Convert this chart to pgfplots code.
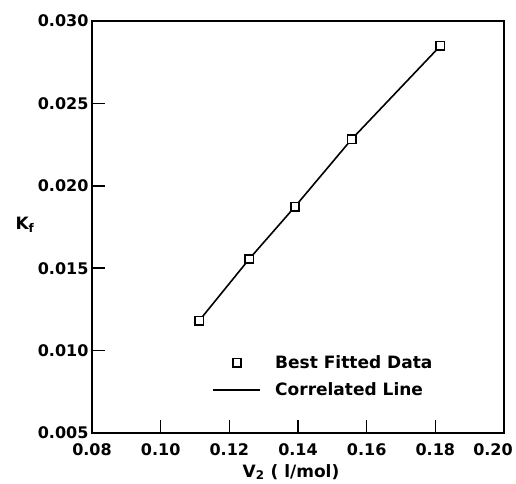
\documentclass[border=0pt]{standalone}
\usepackage{fontspec}
\setmainfont{DejaVu Sans}
\usepackage{pgfplots}
\pgfplotsset{compat=1.18}
\pgfplotsset{
  linelegend/.style={legend image code/.code={\draw[##1] (0pt,0pt) -- (47pt,0pt);}},
  marklegend/.style={legend image code/.code={\draw[##1] plot coordinates {(23.5pt,0pt)};}},
}

\begin{document}
\bfseries
\begin{tikzpicture}
\path[use as bounding box] (-92pt,-50pt) rectangle (424pt,433pt);
\begin{axis}[
  scale only axis,
  width=412pt, height=412pt,
  xmin=0.08, xmax=0.20, ymin=0.005, ymax=0.030,
  xtick={0.08,0.10,...,0.18},
  extra x ticks={0.20},
  extra x tick labels={0.20},
  extra x tick style={tick label style={xshift=-11pt}, major tick length=0pt},
  ytick={0.005,0.010,...,0.030},
  xtick pos=bottom, ytick pos=left,
  tick align=inside,
  major tick length=13pt,
  axis line style={line width=2.4pt},
  every tick/.style={line width=1.6pt, black},
  /pgf/number format/assume math mode=true,
  xticklabel style={yshift=-7pt, /pgf/number format/.cd, fixed, fixed zerofill, precision=2},
  yticklabel style={/pgf/number format/.cd, fixed, fixed zerofill, precision=3},
  scaled x ticks=false, scaled y ticks=false,
  ticklabel style={font=\fontsize{16}{19}\selectfont\bfseries},
  label style={font=\fontsize{17}{20}\selectfont\bfseries},
  xlabel={V\textsubscript{2} ( l/mol)},
  ylabel={K\textsubscript{f}},
  xlabel style={at={(axis description cs:0.483,0)}, anchor=center, yshift=-39pt},
  ylabel style={rotate=-90, at={(axis description cs:0,0.505)}, anchor=west, xshift=-80pt},
  legend style={draw=none, fill=none, at={(axis description cs:0.285,0.198)}, anchor=north west,
    font=\fontsize{17}{20}\selectfont\bfseries, row sep=9pt,
    /tikz/every odd column/.append style={column sep=12pt}},
  legend cell align=left,
]
% fitted data points
\addplot[only marks, mark=square*, mark size=4.2pt,
  mark options={fill=white, draw=black, line width=1.6pt}, marklegend]
  table {
x y
0.1112 0.01181
0.1258 0.01556
0.1391 0.01873
0.1556 0.02282
0.1815 0.02850
};
\addlegendentry{Best Fitted Data}
% correlated line through the points
\addplot[black, line width=1.6pt, no marks, linelegend]
  table {
x y
0.1112 0.01181
0.1258 0.01556
0.1391 0.01873
0.1556 0.02282
0.1815 0.02850
};
\addlegendentry{Correlated Line}
\addplot[only marks, mark=square*, mark size=4.2pt,
  mark options={fill=white, draw=black, line width=1.6pt}, forget plot]
  table {
x y
0.1112 0.01181
0.1258 0.01556
0.1391 0.01873
0.1556 0.02282
0.1815 0.02850
};
\end{axis}
\end{tikzpicture}
\end{document}
